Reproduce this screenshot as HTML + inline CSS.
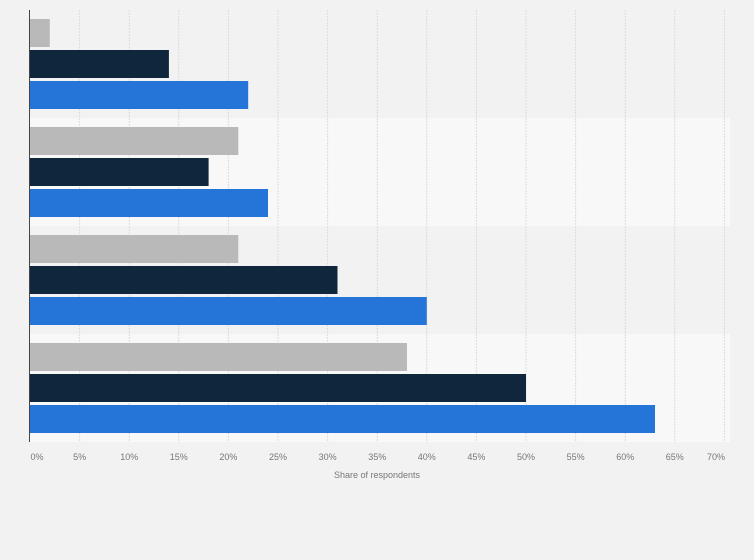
<!DOCTYPE html><html><head><style>body{margin:0;background:#f2f2f2}svg{display:block;font-family:"Liberation Sans",sans-serif}</style></head><body>
<svg width="754" height="560" xmlns="http://www.w3.org/2000/svg">
<rect width="754" height="560" fill="#f2f2f2"/>
<rect x="30" y="10" width="700" height="108" fill="#f2f2f2"/>
<rect x="30" y="118" width="700" height="108" fill="#f8f8f8"/>
<rect x="30" y="226" width="700" height="108" fill="#f2f2f2"/>
<rect x="30" y="334" width="700" height="108" fill="#f8f8f8"/>
<g stroke="#dcdcdc" stroke-dasharray="2,1">
<line x1="79.6" y1="10" x2="79.6" y2="442"/><line x1="129.2" y1="10" x2="129.2" y2="442"/><line x1="178.8" y1="10" x2="178.8" y2="442"/><line x1="228.4" y1="10" x2="228.4" y2="442"/><line x1="278" y1="10" x2="278" y2="442"/><line x1="327.6" y1="10" x2="327.6" y2="442"/><line x1="377.2" y1="10" x2="377.2" y2="442"/><line x1="426.8" y1="10" x2="426.8" y2="442"/><line x1="476.4" y1="10" x2="476.4" y2="442"/><line x1="526" y1="10" x2="526" y2="442"/><line x1="575.6" y1="10" x2="575.6" y2="442"/><line x1="625.2" y1="10" x2="625.2" y2="442"/><line x1="674.8" y1="10" x2="674.8" y2="442"/><line x1="724.4" y1="10" x2="724.4" y2="442"/>
</g>
<g>
<rect x="30" y="19" width="19.8" height="28" fill="#b9b9b9"/>
<rect x="30" y="50" width="138.9" height="28" fill="#0f263c"/>
<rect x="30" y="81" width="218.2" height="28" fill="#2575d9"/>
<rect x="30" y="127" width="208.3" height="28" fill="#b9b9b9"/>
<rect x="30" y="158" width="178.6" height="28" fill="#0f263c"/>
<rect x="30" y="189" width="238" height="28" fill="#2575d9"/>
<rect x="30" y="235" width="208.3" height="28" fill="#b9b9b9"/>
<rect x="30" y="266" width="307.5" height="28" fill="#0f263c"/>
<rect x="30" y="297" width="396.8" height="28" fill="#2575d9"/>
<rect x="30" y="343" width="377" height="28" fill="#b9b9b9"/>
<rect x="30" y="374" width="496" height="28" fill="#0f263c"/>
<rect x="30" y="405" width="625" height="28" fill="#2575d9"/>
</g>
<line x1="29.5" y1="10" x2="29.5" y2="442" stroke="#444" stroke-width="1"/>
<g font-size="9" fill="#777" text-anchor="middle">
<text x="37" y="460">0%</text><text x="79.6" y="460">5%</text><text x="129.2" y="460">10%</text><text x="178.8" y="460">15%</text><text x="228.4" y="460">20%</text><text x="278" y="460">25%</text><text x="327.6" y="460">30%</text><text x="377.2" y="460">35%</text><text x="426.8" y="460">40%</text><text x="476.4" y="460">45%</text><text x="526" y="460">50%</text><text x="575.6" y="460">55%</text><text x="625.2" y="460">60%</text><text x="674.8" y="460">65%</text><text x="716" y="460">70%</text>
<text x="377" y="478">Share of respondents</text>
</g>
</svg></body></html>
